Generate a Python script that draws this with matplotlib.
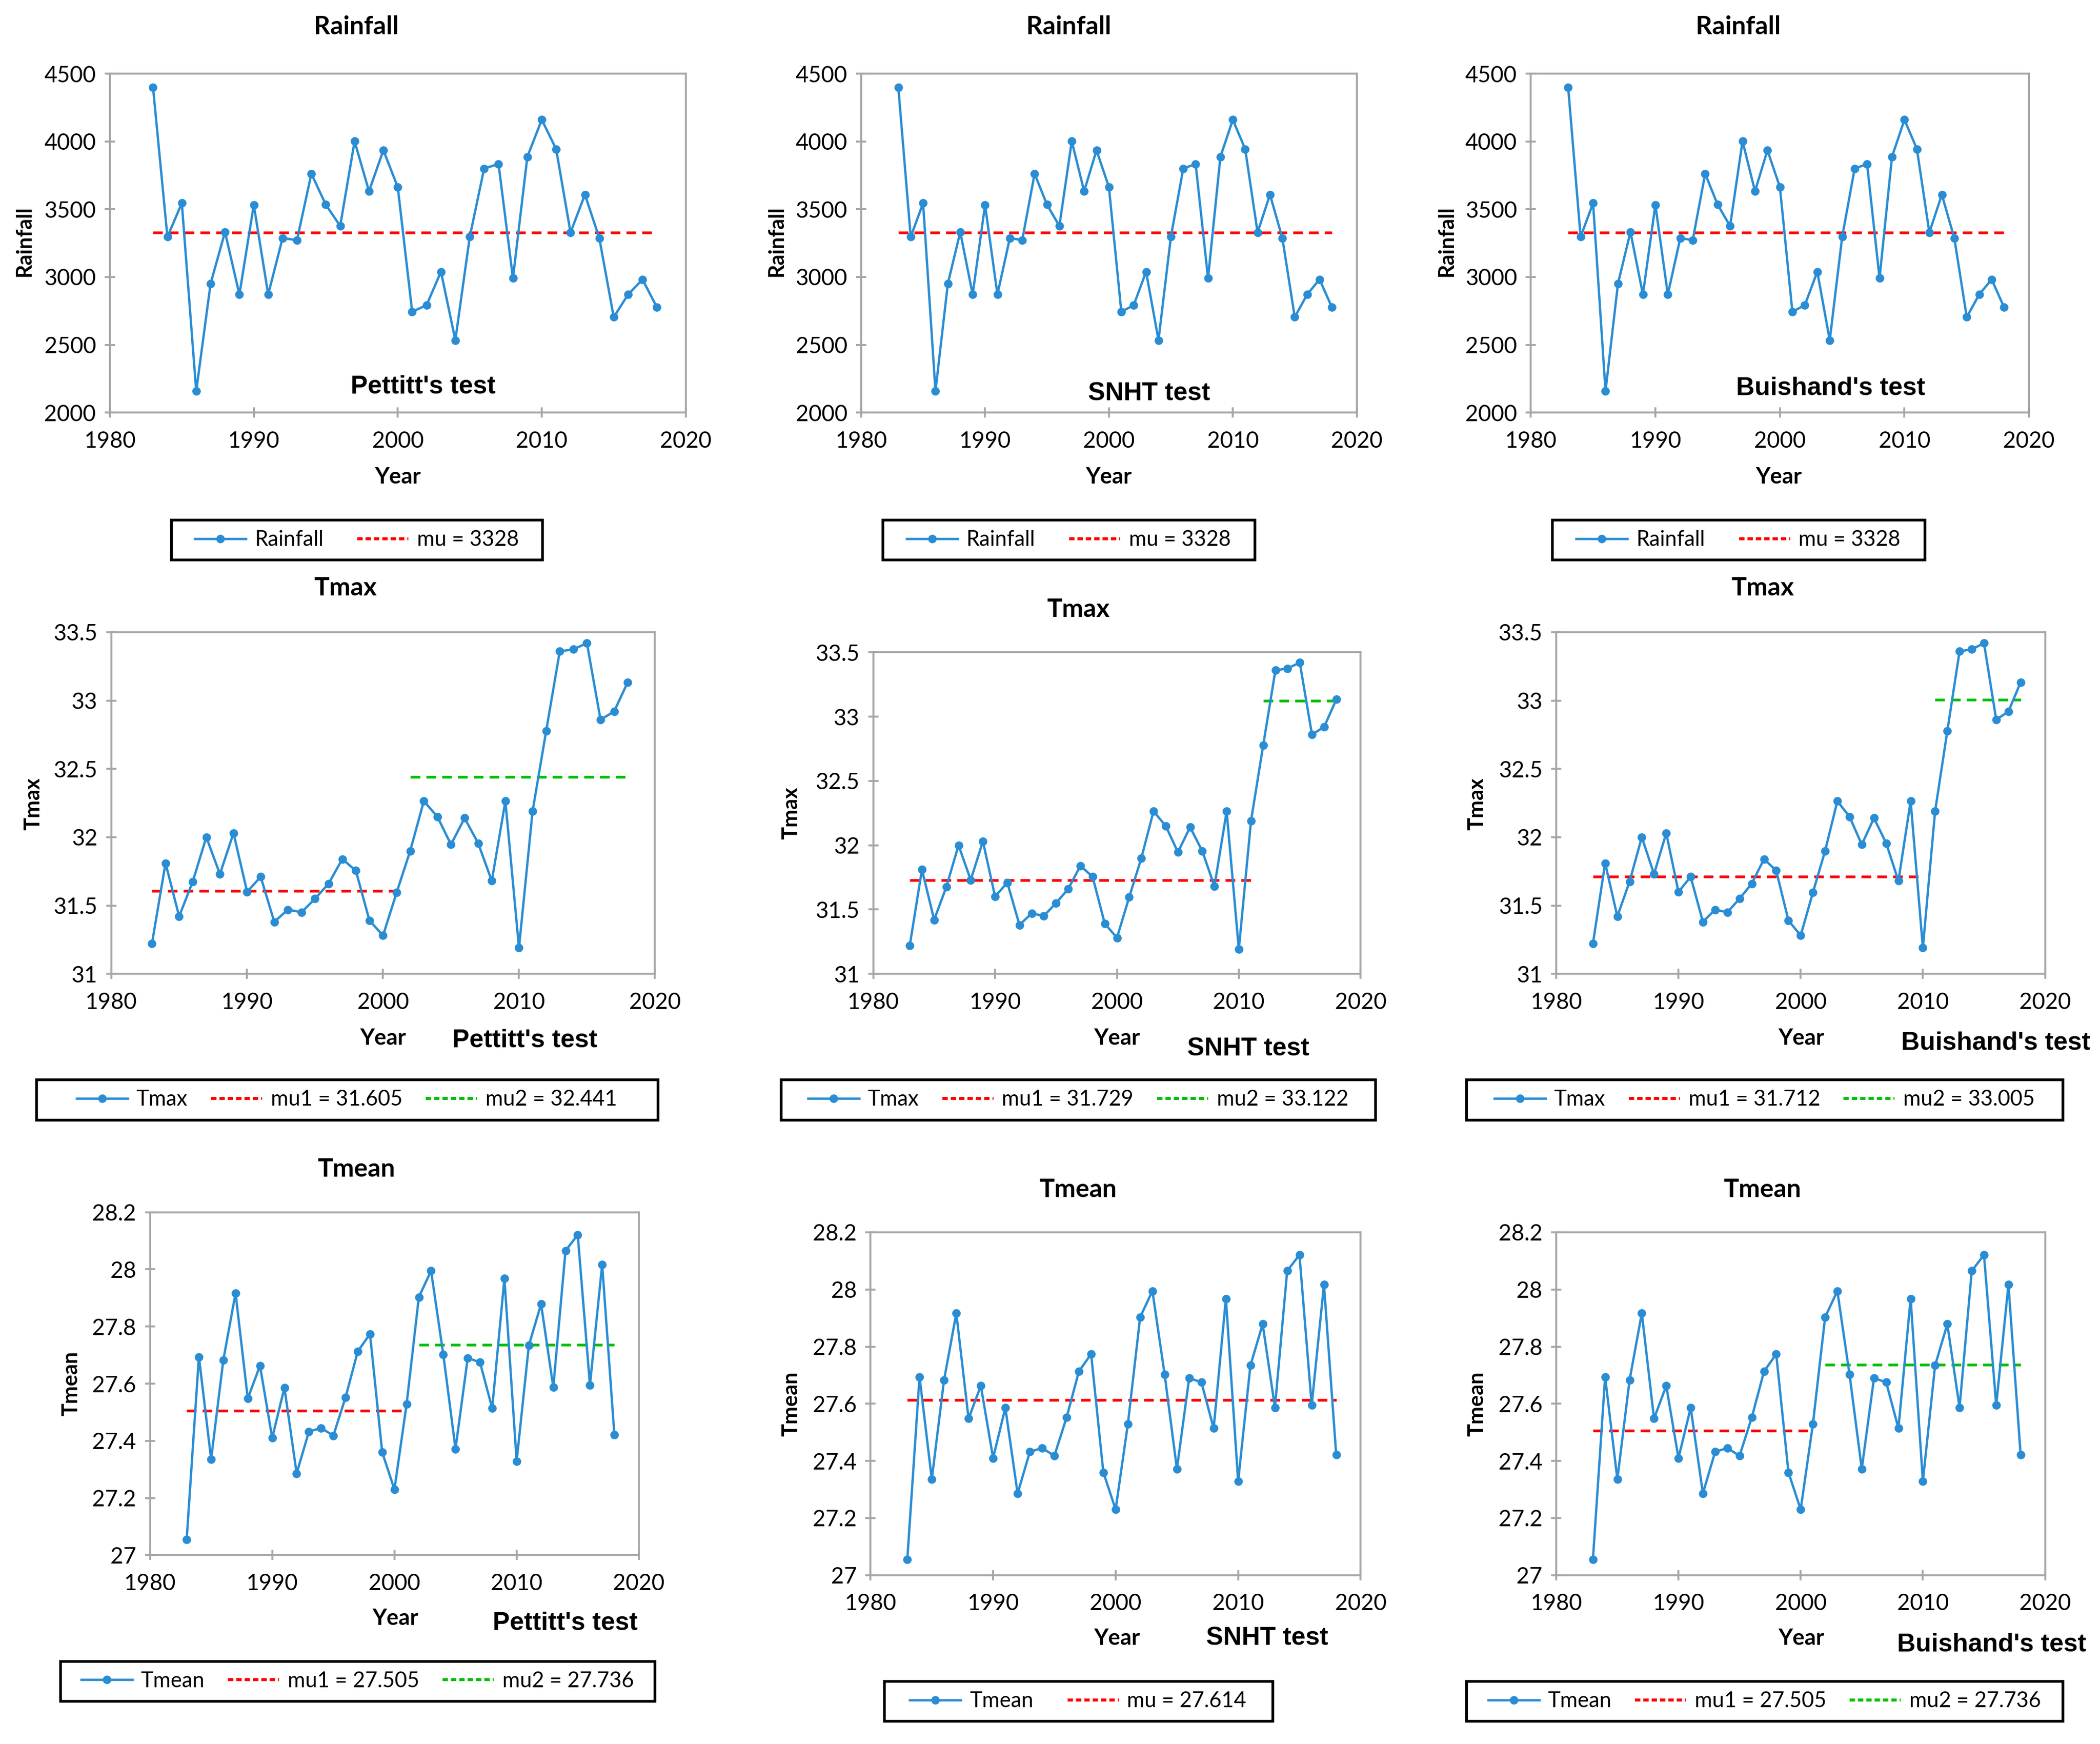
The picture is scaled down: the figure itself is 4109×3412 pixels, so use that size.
import matplotlib
matplotlib.use('Agg')
import matplotlib.pyplot as plt
from matplotlib.ticker import MultipleLocator, FuncFormatter
from matplotlib.lines import Line2D
from matplotlib.patches import Rectangle

# ---------------- data ----------------
years = list(range(1983, 2019))
rainfall = [4400, 3296, 3545, 2158, 2952, 3332, 2871, 3532, 2871, 3287, 3272, 3762,
            3534, 3376, 4002, 3633, 3935, 3663, 2744, 2792, 3039, 2534, 3296, 3801,
            3833, 2991, 3887, 4160, 3944, 3328, 3608, 3287, 2704, 2871, 2982, 2776]
tmax = [31.22, 31.81, 31.42, 31.675, 32.00, 31.73, 32.03, 31.60, 31.71, 31.38, 31.47, 31.45,
        31.55, 31.66, 31.84, 31.755, 31.39, 31.28, 31.595, 31.90, 32.264, 32.15, 31.946, 32.14,
        31.955, 31.68, 32.264, 31.19, 32.19, 32.777, 33.36, 33.375, 33.42, 32.86, 32.92, 33.134]
tmean = [27.055, 27.694, 27.336, 27.683, 27.917, 27.548, 27.663, 27.410, 27.586, 27.286, 27.432, 27.445,
         27.418, 27.552, 27.713, 27.774, 27.360, 27.230, 27.529, 27.903, 27.995, 27.702, 27.372, 27.690,
         27.675, 27.514, 27.968, 27.329, 27.734, 27.879, 27.587, 28.065, 28.121, 27.595, 28.017, 27.421]

tests = ["Pettitt's test", "SNHT test", "Buishand's test"]
variables = ["Rainfall", "Tmax", "Tmean"]

# change-point segments: (mean, first year, last year)
rain_pettitt = [(3328, 1983, 2018)]
rain_snht = [(3328, 1983, 2018)]
rain_buishand = [(3328, 1983, 2018)]
tmax_pettitt = [(31.605, 1983, 2001), (32.441, 2002, 2018)]
tmax_snht = [(31.729, 1983, 2011), (33.122, 2012, 2018)]
tmax_buishand = [(31.712, 1983, 2010), (33.005, 2011, 2018)]
tmean_pettitt = [(27.505, 1983, 2001), (27.736, 2002, 2018)]
tmean_snht = [(27.614, 1983, 2018)]
tmean_buishand = [(27.505, 1983, 2001), (27.736, 2002, 2018)]

series = {"Rainfall": rainfall, "Tmax": tmax, "Tmean": tmean}
segments = {
    "Rainfall": [rain_pettitt, rain_snht, rain_buishand],
    "Tmax": [tmax_pettitt, tmax_snht, tmax_buishand],
    "Tmean": [tmean_pettitt, tmean_snht, tmean_buishand],
}
y_limits = {"Rainfall": (2000, 4500, 500), "Tmax": (31, 33.5, 0.5), "Tmean": (27, 28.2, 0.2)}
x_range = (1980, 2020, 10)

# ---------------- style ----------------
W, H = 1568.0, 1302.0   # layout reference units
NARROW = ['Lato', 'DejaVu Sans']
ARIAL = ['Liberation Sans', 'DejaVu Sans']
BLUE = '#2a8dd4'
SPINE = '#a6a6a6'
seg_colors = ['#ff0000', '#00c000']

fig = plt.figure(figsize=(4109 / 300, 3412 / 300), dpi=300)


def fx(x):
    return x / W


def fy(y):
    return 1 - y / H


layout = {
    ("Rainfall", 0): dict(ax=(82, 55, 512, 308), title=(266, 20), ylab=(18, 180), xlab=(297, 356), test=(316, 289), leg=(128, 388, 405, 418)),
    ("Rainfall", 1): dict(ax=(643, 55, 1013, 308), title=(798, 20), ylab=(580, 180), xlab=(828, 356), test=(858, 294), leg=(659, 388, 937, 418)),
    ("Rainfall", 2): dict(ax=(1143, 55, 1515, 308), title=(1298, 20), ylab=(1080, 180), xlab=(1328, 356), test=(1367, 290), leg=(1159, 388, 1437, 418)),
    ("Tmax", 0): dict(ax=(83, 472, 489, 727), title=(258, 439), ylab=(25, 600), xlab=(286, 775), test=(392, 777), leg=(27, 806, 491, 836)),
    ("Tmax", 1): dict(ax=(652, 487, 1016, 727), title=(805, 455), ylab=(591, 607), xlab=(834, 775), test=(932, 783), leg=(583, 806, 1027, 836)),
    ("Tmax", 2): dict(ax=(1162, 472, 1527, 727), title=(1316, 439), ylab=(1103, 600), xlab=(1345, 775), test=(1490, 779), leg=(1095, 806, 1540, 836)),
    ("Tmean", 0): dict(ax=(112, 905, 477, 1161), title=(266, 873), ylab=(53, 1033), xlab=(295, 1208), test=(422, 1212), leg=(45, 1240, 489, 1270)),
    ("Tmean", 1): dict(ax=(650, 920, 1016, 1176), title=(805, 888), ylab=(591, 1048), xlab=(834, 1223), test=(946, 1223), leg=(660, 1255, 950, 1285)),
    ("Tmean", 2): dict(ax=(1162, 920, 1527, 1176), title=(1316, 888), ylab=(1103, 1048), xlab=(1345, 1223), test=(1487, 1228), leg=(1095, 1255, 1540, 1285)),
}

fmt = FuncFormatter(lambda v, p: f'{v:g}')

for var in variables:
    vals = series[var]
    ymin, ymax, ystep = y_limits[var]
    for ti, test in enumerate(tests):
        L = layout[(var, ti)]
        x0, y0, x1, y1 = L['ax']
        ax = fig.add_axes([fx(x0), fy(y1), fx(x1) - fx(x0), fy(y0) - fy(y1)])
        line, = ax.plot(years, vals, color=BLUE, lw=1.1, marker='o', ms=3.0, zorder=3)
        handles = [line]
        labels = [var]
        segs = segments[var][ti]
        for si, (mu, ya, yb) in enumerate(segs):
            ax.plot([ya, yb], [mu, mu], color=seg_colors[si], lw=1.3,
                    dashes=(3.5, 2.2), zorder=2)
            handles.append(Line2D([], [], color=seg_colors[si], lw=1.4, dashes=(1.8, 1.0)))
            if len(segs) == 1:
                labels.append(f'mu = {mu:g}')
            else:
                labels.append(f'mu{si + 1} = {mu:g}')

        ax.set_xlim(x_range[0], x_range[1])
        ax.set_ylim(ymin, ymax)
        ax.xaxis.set_major_locator(MultipleLocator(x_range[2]))
        ax.yaxis.set_major_locator(MultipleLocator(ystep))
        ax.yaxis.set_major_formatter(fmt)
        ax.xaxis.set_major_formatter(fmt)
        for s in ax.spines.values():
            s.set_color(SPINE)
            s.set_linewidth(0.9)
        ax.tick_params(axis='both', which='major', direction='inout', length=5,
                       width=0.9, color=SPINE, labelsize=10.5)
        ax.tick_params(axis='x', pad=6)
        ax.tick_params(axis='y', pad=4)
        for lab in ax.get_xticklabels() + ax.get_yticklabels():
            lab.set_family(NARROW)

        tx, ty = L['title']
        fig.text(fx(tx), fy(ty), var, ha='center', va='center', fontsize=12,
                 fontweight='bold', family=NARROW)
        lx, ly = L['ylab']
        fig.text(fx(lx), fy(ly), var, ha='center', va='center', rotation=90,
                 fontsize=10, fontweight='bold', family=NARROW)
        xx, xy = L['xlab']
        fig.text(fx(xx), fy(xy), 'Year', ha='center', va='center', fontsize=10.5,
                 fontweight='bold', family=NARROW)
        sx, sy = L['test']
        fig.text(fx(sx), fy(sy), test, ha='center', va='center', fontsize=12,
                 fontweight='bold', family=ARIAL)

        gx0, gy0, gx1, gy1 = L['leg']
        fig.patches.append(Rectangle((fx(gx0), fy(gy1)), fx(gx1) - fx(gx0), fy(gy0) - fy(gy1),
                                     transform=fig.transFigure, fill=False,
                                     edgecolor='black', linewidth=1.3, zorder=5))
        fig.legend(handles, labels, loc='center', ncol=len(handles),
                   bbox_to_anchor=((fx(gx0) + fx(gx1)) / 2, (fy(gy0) + fy(gy1)) / 2),
                   frameon=False, handlelength=2.4, handletextpad=0.4,
                   columnspacing=1.1 if len(handles) > 2 else 1.6, numpoints=1,
                   prop={'family': NARROW, 'size': 10})

fig.savefig('out.png', dpi=300, facecolor='white')
